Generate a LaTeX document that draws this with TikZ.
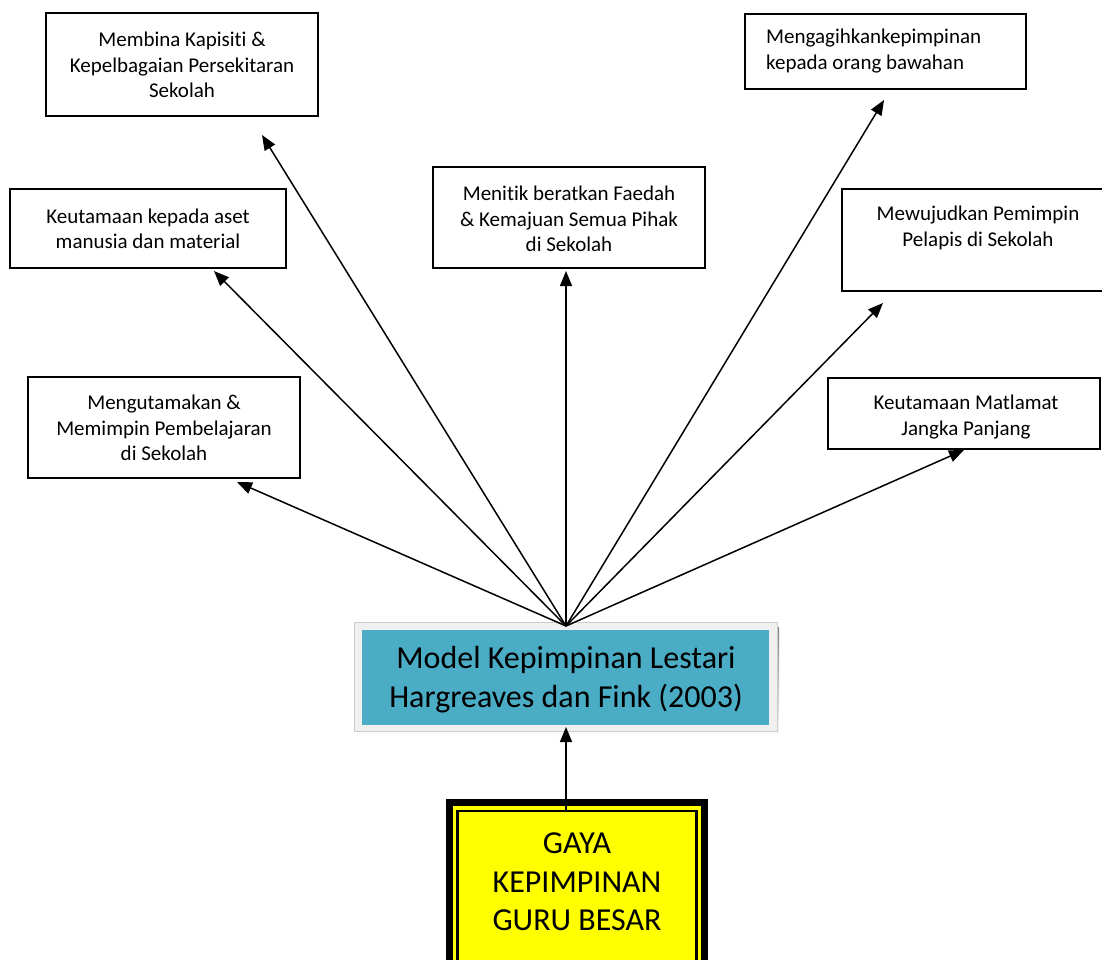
\documentclass[tikz,border=0pt]{standalone}
\usepackage{fontspec}
\setmainfont{Carlito}[Ligatures=NoCommon]
\usetikzlibrary{arrows.meta,calc}
\definecolor{teal5}{HTML}{4BACC6}
\definecolor{frame}{HTML}{F0F0F0}
\definecolor{shade}{HTML}{9FB4BE}
\definecolor{yel}{HTML}{FFFF00}
\begin{document}
\begin{tikzpicture}[x=1pt,y=-1pt,
  box/.style={draw=black, line width=1.6pt, fill=white, inner sep=0pt, outer sep=0pt, anchor=north west},
  txt/.style={align=center, font=\fontsize{21}{25.5}\selectfont, inner sep=0pt},
  big/.style={align=center, font=\fontsize{32}{39}\selectfont, inner sep=0pt},
  arr/.style={line width=1.5pt, -{Triangle[length=15pt,width=12pt]}},
]
\useasboundingbox (0,0) rectangle (1102,960);

% small boxes
\node[box, minimum width=272pt, minimum height=103pt] (b1) at (46,13) {};
\node[txt] (l1) at (182,65) {Membina Kapisiti \&\\Kepelbagaian Persekitaran\\Sekolah};

\node[box, minimum width=281pt, minimum height=75pt] (b2) at (745,14) {};
\node[txt, align=left, anchor=west] (l2) at (766,51) {Mengagihkankepimpinan\\kepada orang bawahan};

\node[box, minimum width=276pt, minimum height=79pt] (b3) at (10,189) {};
\node[txt] (l3) at (148,229) {Keutamaan kepada aset\\manusia dan material};

\node[box, minimum width=272pt, minimum height=101pt] (b4) at (433,167) {};
\node[txt] (l4) at (569,219) {Menitik beratkan Faedah\\\& Kemajuan Semua Pihak\\di Sekolah};

\node[box, minimum width=272pt, minimum height=102pt] (b5) at (842,189) {};
\node[txt] (l5) at (978,228) {Mewujudkan Pemimpin\\Pelapis di Sekolah};

\node[box, minimum width=272pt, minimum height=101pt] (b6) at (28,377) {};
\node[txt] (l6) at (164,428) {Mengutamakan \&\\Memimpin Pembelajaran\\di Sekolah};

\node[box, minimum width=272pt, minimum height=71pt] (b7) at (828,378) {};
\node[txt] (l7) at (966,417) {Keutamaan Matlamat\\Jangka Panjang};

% central model box
\fill[shade] (357,627) rectangle (779,737);
\node[fill=frame, draw=frame!85!black, line width=0.5pt, minimum width=423pt, minimum height=109pt, inner sep=0pt, outer sep=0pt, anchor=north west] (mf) at (354,622) {};
\node[fill=teal5, minimum width=407pt, minimum height=95pt, inner sep=0pt, outer sep=0pt, anchor=north west] (model) at (362,630) {};
\node[big] (lm) at (566,680) {Model Kepimpinan Lestari\\Hargreaves dan Fink (2003)};

% bottom box
\node[fill=yel, draw=black, line width=7pt, minimum width=255pt, minimum height=170pt, inner sep=0pt, outer sep=0pt, anchor=north west] (gaya) at (449.5,802.5) {};
\node[draw=black, line width=2.5pt, minimum width=239pt, minimum height=150pt, inner sep=0pt, outer sep=0pt, anchor=north west] (gin) at (457.25,811) {};
\node[big, font=\fontsize{32}{38.5}\selectfont] (lg) at (577,882) {GAYA\\KEPIMPINAN\\GURU BESAR};

% connectors
\coordinate (hub) at (566,626);
\coordinate (t1) at (262,135);
\coordinate (t2) at (884,100);
\coordinate (t3) at (214,271);
\coordinate (t4) at (566,271);
\coordinate (t5) at (883,303);
\coordinate (t6) at (237,482);
\coordinate (t7) at (964,450);
\coordinate (gtop) at (566,812);
\coordinate (mbot) at (566,727);

\foreach \t in {t1,t2,t3,t4,t5,t6,t7} \draw[arr] (hub) -- (\t);
\draw[arr] (gtop) -- (mbot);
\end{tikzpicture}
\end{document}
